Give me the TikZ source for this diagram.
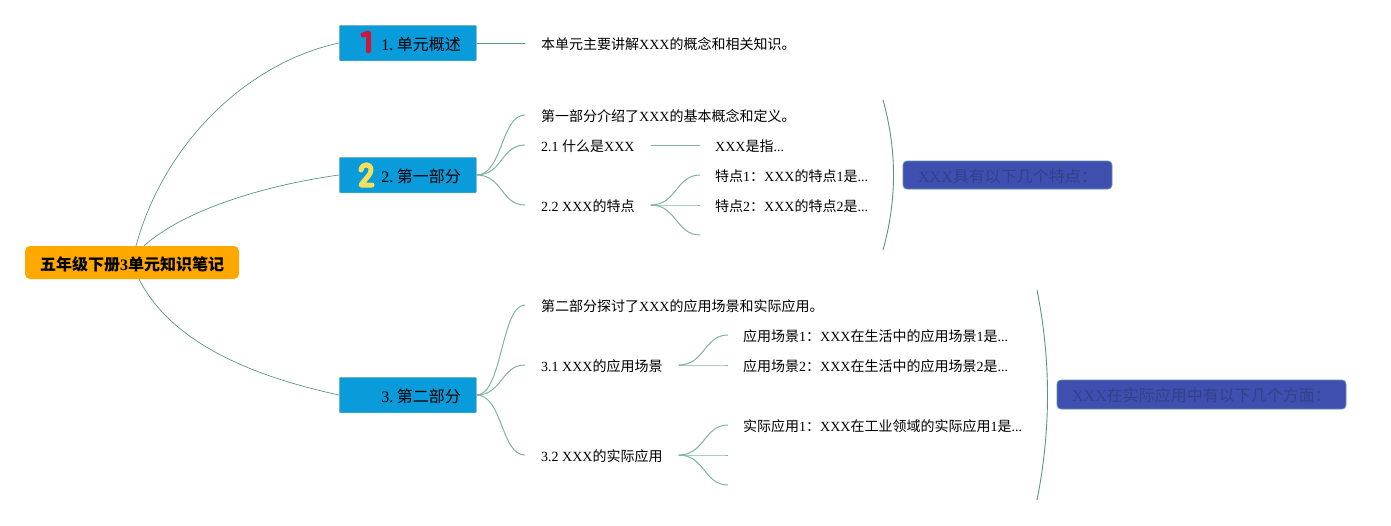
\documentclass[tikz,border=0pt]{standalone}
\usepackage{fontspec}
\setmainfont{Liberation Serif}
\newfontfamily\cjkf{Noto Sans CJK SC}
\newcommand{\zh}[1]{{\cjkf #1}}
\definecolor{branch}{HTML}{5A9583}
\definecolor{twig}{HTML}{7FB3A2}
\definecolor{topicblue}{HTML}{0A9BDB}
\definecolor{rootorange}{HTML}{FFA800}
\definecolor{noteblue}{HTML}{3F4FAF}
\definecolor{noteedge}{HTML}{5F94A8}
\definecolor{notetext}{HTML}{34418A}
\tikzset{
  rootbox/.style={draw=none,fill=rootorange,rounded corners=5pt,minimum width=214pt,minimum height=33pt,inner sep=0pt,text height=17pt,text depth=2pt,font=\fontsize{16}{18}\selectfont\bfseries},
  topicbox/.style={draw=twig,line width=.5pt,fill=topicblue,rounded corners=1pt,minimum width=137pt,minimum height=35.5pt,inner xsep=0pt,inner ysep=0pt,text height=16pt,text depth=2pt,anchor=west,font=\fontsize{16}{18}\selectfont},
  leaftext/.style={anchor=west,inner xsep=16pt,inner ysep=0pt,text height=15pt,text depth=2pt,font=\fontsize{14}{16}\selectfont},
  childtext/.style={leaftext,inner xsep=15pt},
  notebox/.style={draw=noteedge,line width=.8pt,fill=noteblue,rounded corners=4pt,inner sep=0pt,text height=16pt,text depth=2pt,text=notetext,font=\fontsize{16}{18}\selectfont},
  mainline/.style={branch,line width=.7pt},
  twigline/.style={twig,line width=1pt},
  arcline/.style={branch,line width=.9pt},
}
\newcommand{\topictext}[2]{\makebox[137pt][l]{\hspace{42pt}#1.\hspace{3.5pt}#2}}
\begin{document}
\begin{tikzpicture}[x=1pt,y=-1pt]
\useasboundingbox (0,0) rectangle (1391,525);
% root and topics
\node[rootbox] (root) at (132,262.5) {\zh{五年级下册}3\zh{单元知识笔记}};
\node[topicbox] (t1) at (339,43) {\topictext{1}{\zh{单元概述}}};
\node[topicbox] (t2) at (339,175) {\topictext{2}{\zh{第一部分}}};
\node[topicbox] (t3) at (339,395) {\topictext{3}{\zh{第二部分}}};
% number icons
\draw[line width=5pt,color={rgb,255:red,200;green,25;blue,60},line cap=round,line join=round] (363,35) -- (368.5,33) -- (368.5,51);
\draw[line width=5pt,color={rgb,255:red,245;green,224;blue,90},line cap=round,line join=round] (361,170) .. controls (362,163) and (371,163) .. (371,170) .. controls (371,175) and (364,180) .. (361,185) -- (372,185);
% main branches
\draw[mainline] ([xshift=4pt]root.north) .. controls (165,140) and (250,62) .. (t1.west);
\draw[mainline] ([xshift=12pt]root.north) .. controls (190,205) and (280,183) .. (t2.west);
\draw[mainline] ([xshift=7pt]root.south) .. controls (175,350) and (270,380) .. (t3.west);
% unit overview
\node[leaftext] (a1) at (525,43) {\zh{本单元主要讲解}XXX\zh{的概念和相关知识。}};
\draw[mainline] (t1.east) -- (a1.west);
% part one
\node[leaftext] (b1) at (525,115) {\zh{第一部分介绍了}XXX\zh{的基本概念和定义。}};
\node[leaftext] (b2) at (525,145) {2.1 \zh{什么是}XXX};
\node[leaftext] (b3) at (525,205) {2.2 XXX\zh{的特点}};
\node[childtext] (b21) at (700,145) {XXX\zh{是指}...};
\node[childtext] (b31) at (700,175) {\zh{特点}1\zh{：}XXX\zh{的特点}1\zh{是}...};
\node[childtext] (b32) at (700,205) {\zh{特点}2\zh{：}XXX\zh{的特点}2\zh{是}...};
\coordinate (b33) at (700,235);
\foreach \n in {b1,b2,b3}
  \draw[twigline] (t2.east) .. controls +(26,0) and +(-24,0) .. (\n.west);
\draw[twigline] (b2.east) -- (b21.west);
\foreach \n in {b31,b32,b33}
  \draw[twigline] (b3.east) .. controls +(26,0) and +(-24,0) .. (\n.west);
% part two
\node[leaftext] (c1) at (525,305) {\zh{第二部分探讨了}XXX\zh{的应用场景和实际应用。}};
\node[leaftext] (c2) at (525,365) {3.1 XXX\zh{的应用场景}};
\node[leaftext] (c3) at (525,455) {3.2 XXX\zh{的实际应用}};
\node[childtext] (c21) at (728,335) {\zh{应用场景}1\zh{：}XXX\zh{在生活中的应用场景}1\zh{是}...};
\node[childtext] (c22) at (728,365) {\zh{应用场景}2\zh{：}XXX\zh{在生活中的应用场景}2\zh{是}...};
\node[childtext] (c31) at (728,425) {\zh{实际应用}1\zh{：}XXX\zh{在工业领域的实际应用}1\zh{是}...};
\coordinate (c32) at (728,455);
\coordinate (c33) at (728,485);
\foreach \n in {c1,c2,c3}
  \draw[twigline] (t3.east) .. controls +(26,0) and +(-24,0) .. (\n.west);
\foreach \n in {c21,c22}
  \draw[twigline] (c2.east) .. controls +(26,0) and +(-24,0) .. (\n.west);
\foreach \n in {c31,c32,c33}
  \draw[twigline] (c3.east) .. controls +(26,0) and +(-24,0) .. (\n.west);
% summaries
\coordinate (p1) at (883,100);
\coordinate (p2) at (883,250);
\draw[arcline] (p1) .. controls (897,150) and (897,200) .. (p2);
\node[notebox,minimum width=209pt,minimum height=28pt] (s1) at (1007.5,175) {XXX\zh{具有以下几个特点：}};
\coordinate (q1) at (1037,290);
\coordinate (q2) at (1037,500);
\draw[arcline] (q1) .. controls (1051,360) and (1051,430) .. (q2);
\node[notebox,minimum width=289pt,minimum height=29pt] (s2) at (1201.5,394.5) {XXX\zh{在实际应用中有以下几个方面：}};
\end{tikzpicture}
\end{document}
